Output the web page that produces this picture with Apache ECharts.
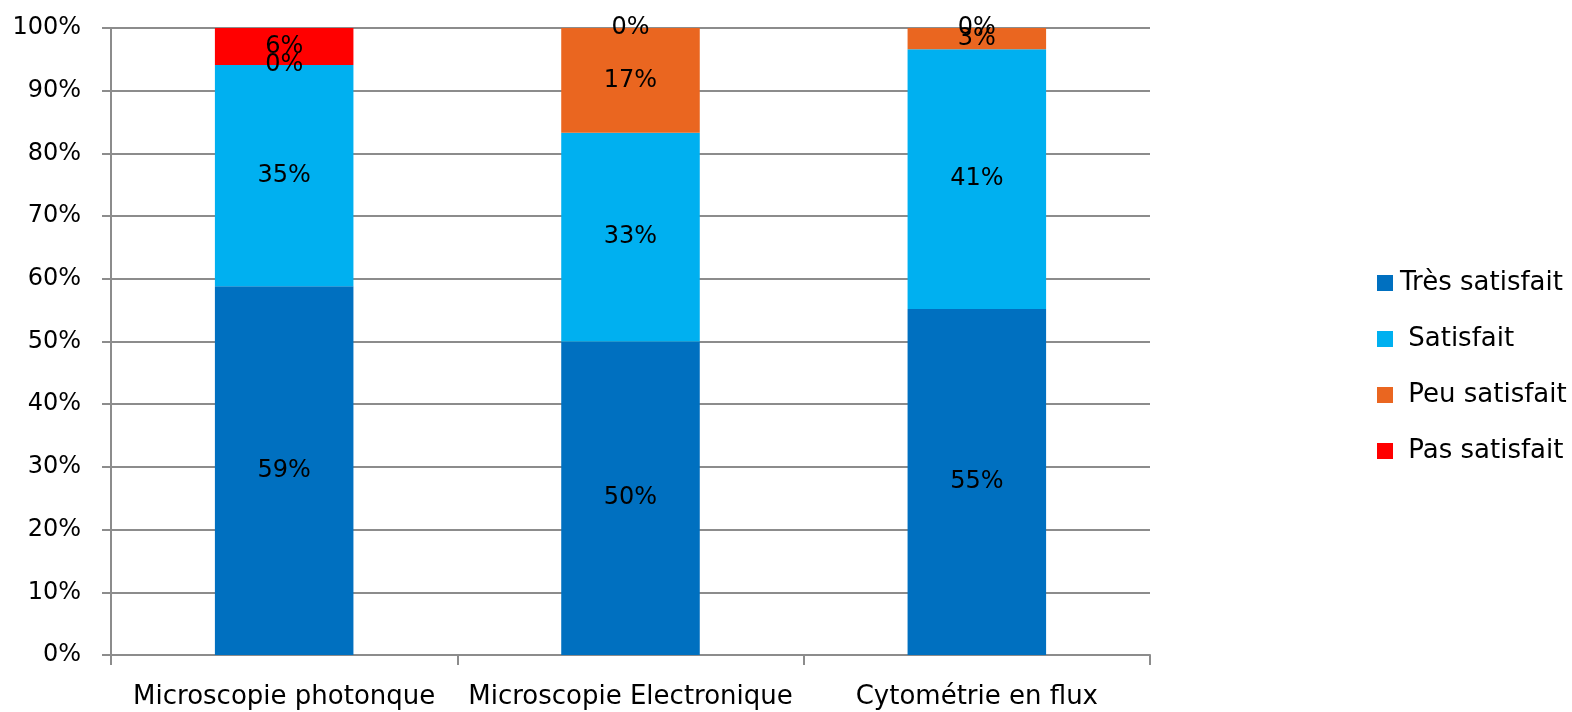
<!DOCTYPE html>
<html><head><meta charset="utf-8">
<script src="https://cdn.jsdelivr.net/npm/echarts@6/dist/echarts.min.js"></script>
<style>html,body{margin:0;padding:0;background:#fff}#c{width:1572px;height:712px}</style>
</head><body><div id="c"></div>
<script>
const categories = ['Microscopie photonque', 'Microscopie Electronique', 'Cytométrie en flux'];
const seriesNames = ['Très satisfait', 'Satisfait', 'Peu satisfait', 'Pas satisfait'];
const tresSatisfait = [58.8, 50.0, 55.2];
const satisfait = [35.3, 33.3, 41.4];
const peuSatisfait = [0, 16.7, 3.4];
const pasSatisfait = [5.9, 0, 0];
const colors = ['#0070C0', '#00B0F0', '#EA6620', '#FF0000'];
const values = [tresSatisfait, satisfait, peuSatisfait, pasSatisfait];
const FONT = 'DejaVu Sans';

const chart = echarts.init(document.getElementById('c'));
chart.setOption({
  animation: false,
  textStyle: { fontFamily: FONT },
  grid: { left: 111, right: 422, top: 28, bottom: 57 },
  legend: {
    orient: 'vertical', left: 1372, top: 265,
    icon: 'rect', itemWidth: 16, itemHeight: 16, itemGap: 30,
    textStyle: { fontSize: 26, color: '#000', fontFamily: FONT, padding: [0, 0, 0, 2] },
    formatter: n => n === seriesNames[0] ? n : ' ' + n,
    data: seriesNames
  },
  xAxis: {
    type: 'category', data: categories,
    axisLine: { lineStyle: { color: '#8c8c8c', width: 2 } },
    axisTick: { show: true, interval: 0, length: 10, lineStyle: { color: '#8c8c8c', width: 2 } },
    axisLabel: { color: '#000', fontSize: 26, margin: 29, interval: 0, fontFamily: FONT }
  },
  yAxis: {
    type: 'value', min: 0, max: 100, interval: 10,
    axisLine: { show: true, lineStyle: { color: '#8c8c8c', width: 2 } },
    axisTick: { show: true, length: 9, lineStyle: { color: '#8c8c8c', width: 2 } },
    splitLine: { lineStyle: { color: '#8c8c8c', width: 2 } },
    axisLabel: { color: '#000', fontSize: 24, margin: 30, formatter: '{value}%', fontFamily: FONT }
  },
  series: seriesNames.map((n, i) => ({
    name: n, type: 'bar', stack: 'total', barWidth: '40%',
    itemStyle: { color: colors[i] },
    label: {
      show: true, position: 'inside', color: '#000', fontSize: 24, fontFamily: FONT,
      formatter: p => Math.round(p.value) + '%'
    },
    data: values[i]
  }))
});
</script></body></html>
